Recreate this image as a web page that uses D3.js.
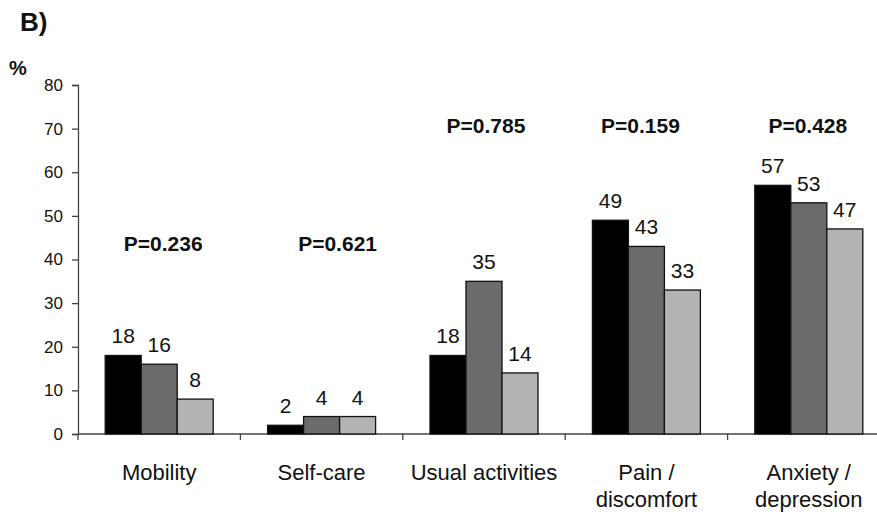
<!DOCTYPE html>
<html>
<head>
<meta charset="utf-8">
<script src="https://cdn.jsdelivr.net/npm/d3@7"></script>
<style>
  html, body { margin: 0; padding: 0; background: #fff; }
  svg { display: block; }
  text { font-family: "Liberation Sans", Arial, sans-serif; fill: #111; }
</style>
</head>
<body>
<div id="chart"></div>
<script>
// EQ-5D dimensions: share of patients reporting problems, three groups
const categories = ["Mobility", "Self-care", "Usual activities", "Pain / discomfort", "Anxiety / depression"];
const categoryLines = [["Mobility"], ["Self-care"], ["Usual activities"], ["Pain /", "discomfort"], ["Anxiety /", "depression"]];
const groups = ["g1", "g2", "g3"];
const group1 = [18, 2, 18, 49, 57];
const group2 = [16, 4, 35, 43, 53];
const group3 = [8, 4, 14, 33, 47];
const pValues = ["P=0.236", "P=0.621", "P=0.785", "P=0.159", "P=0.428"];
const pLevels = [42, 42, 69, 69, 69];
const yTicks = [0, 10, 20, 30, 40, 50, 60, 70, 80];
const groupColors = ["#000000", "#6b6b6b", "#b3b3b3"];

// horizontal nudges (px) for the p-value annotations
const pShift = [4, 16, 2, -6, -1];

const W = 877, H = 517;
const svg = d3.select("#chart").append("svg").attr("width", W).attr("height", H);

const x0 = d3.scaleBand().domain(categories).range([78, 890]).paddingInner(0).paddingOuter(0);
const x1 = d3.scaleBand().domain(groups).range([0, 108]);
const groupOffset = (x0.bandwidth() - 108) / 2;
const y = d3.scaleLinear().domain([0, 80]).range([434, 85]);

// y axis
const yAxis = svg.append("g").attr("transform", "translate(78,0)")
  .call(d3.axisLeft(y).tickValues(yTicks).tickSize(6).tickPadding(9));
yAxis.select(".domain").attr("stroke", "#444").attr("stroke-width", 1.3);
yAxis.selectAll(".tick line").attr("stroke", "#444").attr("stroke-width", 1.3);
yAxis.selectAll(".tick text").style("font-size", "17px").attr("fill", "#111");

// x axis with ticks between categories
const xAxisG = svg.append("g").attr("transform", "translate(0,434)");
xAxisG.append("line").attr("x1", 78).attr("x2", 890).attr("stroke", "#444").attr("stroke-width", 1.3);
xAxisG.selectAll("line.sep").data(categories).join("line")
  .attr("class", "sep")
  .attr("x1", d => x0(d)).attr("x2", d => x0(d))
  .attr("y1", 0).attr("y2", 6)
  .attr("stroke", "#444").attr("stroke-width", 1.3);

// bars
const series = [group1, group2, group3];
const rows = [];
categories.forEach((c, i) => {
  groups.forEach((g, j) => rows.push({ cat: c, grp: g, gi: j, v: series[j][i] }));
});

svg.append("g").selectAll("rect").data(rows).join("rect")
  .attr("x", d => x0(d.cat) + groupOffset + x1(d.grp))
  .attr("y", d => y(d.v))
  .attr("width", x1.bandwidth())
  .attr("height", d => y(0) - y(d.v))
  .attr("fill", d => groupColors[d.gi])
  .attr("stroke", "#111")
  .attr("stroke-width", 1.3);

// value labels
svg.append("g").selectAll("text").data(rows).join("text")
  .attr("x", d => x0(d.cat) + groupOffset + x1(d.grp) + x1.bandwidth() / 2)
  .attr("y", d => y(d.v) - 12)
  .attr("text-anchor", "middle")
  .style("font-size", "21px")
  .text(d => d.v);

// p-values
svg.append("g").selectAll("text").data(categories).join("text")
  .attr("x", (d, i) => x0(d) + x0.bandwidth() / 2 + pShift[i])
  .attr("y", (d, i) => y(pLevels[i]))
  .attr("text-anchor", "middle")
  .style("font-size", "21px")
  .style("font-weight", "bold")
  .text((d, i) => pValues[i]);

// category labels
const catG = svg.append("g").selectAll("text").data(categories).join("text")
  .attr("x", d => x0(d) + x0.bandwidth() / 2)
  .attr("y", 480)
  .attr("text-anchor", "middle")
  .style("font-size", "22px");
catG.selectAll("tspan").data((d, i) => categoryLines[i]).join("tspan")
  .attr("x", function () { return d3.select(this.parentNode).attr("x"); })
  .attr("dy", (d, k) => k === 0 ? 0 : 27)
  .text(d => d);

// panel letter and unit
svg.append("text").attr("x", 20).attr("y", 31)
  .style("font-size", "26px").style("font-weight", "bold").text("B)");
svg.append("text").attr("x", 9).attr("y", 75)
  .style("font-size", "20px").style("font-weight", "bold").text("%");
</script>
</body>
</html>
